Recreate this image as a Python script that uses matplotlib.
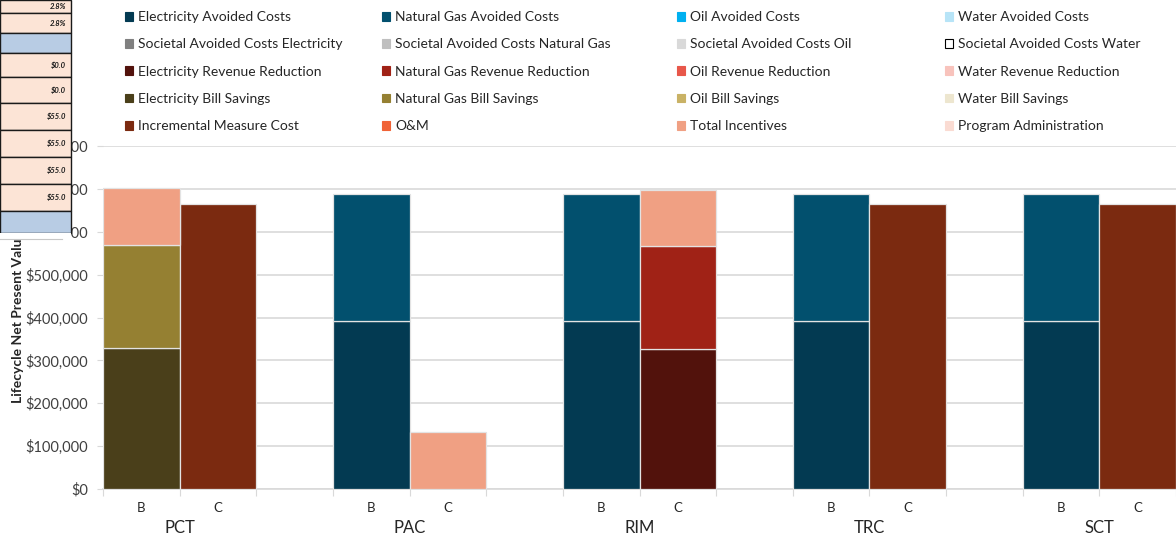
import matplotlib
matplotlib.use("Agg")
import matplotlib.pyplot as plt
import numpy as np
from matplotlib.patches import Patch, Rectangle
from matplotlib.lines import Line2D
from matplotlib.ticker import FuncFormatter, FixedLocator
from matplotlib import transforms

plt.rcParams['font.family'] = ['Lato', 'DejaVu Sans']

# cost test groups, each one benefit (B) and cost (C) bar plus a blank slot
tests = ["PCT", "PAC", "RIM", "TRC", "SCT"]
bar_labels = ["B", "C"]

# series values for the 10 bars (PCT B, PCT C, PAC B, PAC C, ...)
elec_avoided = [0, 0, 393000, 0, 393000, 0, 393000, 0, 393000, 0]
gas_avoided = [0, 0, 295000, 0, 295000, 0, 295000, 0, 295000, 0]
elec_rev_red = [0, 0, 0, 0, 0, 327000, 0, 0, 0, 0]
gas_rev_red = [0, 0, 0, 0, 0, 239000, 0, 0, 0, 0]
elec_bill = [328000, 0, 0, 0, 0, 0, 0, 0, 0, 0]
gas_bill = [242000, 0, 0, 0, 0, 0, 0, 0, 0, 0]
measure_cost = [0, 665000, 0, 0, 0, 0, 0, 665000, 0, 665000]
incentives = [131000, 0, 0, 132000, 0, 132000, 0, 0, 0, 0]
zero = [0] * 10

# legend / stacking order
series = [
    ("Electricity Avoided Costs", elec_avoided, "#033A52"),
    ("Natural Gas Avoided Costs", gas_avoided, "#02506E"),
    ("Oil Avoided Costs", zero, "#00B0F0"),
    ("Water Avoided Costs", zero, "#B7E4F7"),
    ("Societal Avoided Costs Electricity", zero, "#808080"),
    ("Societal Avoided Costs Natural Gas", zero, "#BFBFBF"),
    ("Societal Avoided Costs Oil", zero, "#D9D9D9"),
    ("Societal Avoided Costs Water", zero, "#FFFFFF"),
    ("Electricity Revenue Reduction", elec_rev_red, "#52120C"),
    ("Natural Gas Revenue Reduction", gas_rev_red, "#A02216"),
    ("Oil Revenue Reduction", zero, "#E8574A"),
    ("Water Revenue Reduction", zero, "#F8C3BC"),
    ("Electricity Bill Savings", elec_bill, "#4A3F1A"),
    ("Natural Gas Bill Savings", gas_bill, "#958032"),
    ("Oil Bill Savings", zero, "#C9B265"),
    ("Water Bill Savings", zero, "#EDE6CF"),
    ("Incremental Measure Cost", measure_cost, "#7B2A10"),
    ("O&M", zero, "#F06236"),
    ("Total Incentives", incentives, "#F0A083"),
    ("Program Administration", zero, "#FADBD2"),
]

# spreadsheet cells sitting over the left edge of the chart
cell_rows = [0, 13, 33, 53, 77, 103, 130, 157, 184, 211, 233]
cell_fill = ["#FCE4D6", "#FCE4D6", "#B8CCE4", "#FCE4D6", "#FCE4D6",
             "#FCE4D6", "#FCE4D6", "#FCE4D6", "#FCE4D6", "#B8CCE4"]
cell_text = ["2.8%", "2.8%", "", "$0.0", "$0.0",
             "$55.0", "$55.0", "$55.0", "$55.0", ""]

W, H = 1176, 537
fig = plt.figure(figsize=(W / 100, H / 100), dpi=100)


def fx(px):
    return px / W


def fy(py):
    return 1 - py / H


ax = fig.add_axes([fx(103), fy(489), 1 - fx(103), fy(146) - fy(489)])

# slot positions: B, C, blank for each test
x = np.array([3 * g + k + 0.5 for g in range(len(tests)) for k in range(2)])
bottom = np.zeros(len(x))
for name, vals, col in series:
    v = np.array(vals, dtype=float)
    m = v > 0
    if m.any():
        ax.bar(x[m], v[m], width=1.0, bottom=bottom[m], color=col,
               edgecolor="#E3E3E3", linewidth=0.9, zorder=3)
    bottom += v

ax.set_xlim(0, 14)
ax.set_ylim(0, 800000)
ax.yaxis.set_major_locator(FixedLocator(np.arange(0, 800001, 100000)))
ax.yaxis.set_major_formatter(FuncFormatter(lambda v, p: "${:,.0f}".format(v)))
ax.grid(axis="y", color="#D9D9D9", linewidth=1.2, zorder=0)
for s in ["top", "right", "left"]:
    ax.spines[s].set_visible(False)
ax.spines["bottom"].set_color("#D9D9D9")
ax.spines["bottom"].set_linewidth(1.2)
ax.tick_params(axis="y", length=4, color="#D9D9D9", labelsize=10.5, pad=7,
               labelcolor="#404040")
ax.set_xticks(np.arange(0, 15))
ax.set_xticklabels([])
ax.tick_params(axis="x", length=5, color="#D9D9D9")

trans = transforms.blended_transform_factory(ax.transData, fig.transFigure)
for g, t in enumerate(tests):
    for k, b in enumerate(bar_labels):
        ax.text(3 * g + k + 0.5, fy(508), b, transform=trans, ha="center",
                va="center", fontsize=9.5, color="#262626")
    ax.text(3 * g + 1, fy(528), t, transform=trans, ha="center",
            va="center", fontsize=12, color="#262626")

fig.text(fx(18), fy(403), "Lifecycle Net Present Value", rotation=90,
         ha="center", va="bottom", fontsize=10, fontweight="bold",
         color="#262626")

# legend, one block per column
handles = [Patch(facecolor=c, edgecolor=("#000000" if c == "#FFFFFF" else c),
                 linewidth=0.8, label=n) for n, v, c in series]
col_x = [125, 382, 677, 945]
for c in range(4):
    hs = handles[c::4]
    fig.legend(handles=hs, loc="upper left",
               bbox_to_anchor=(fx(col_x[c]), fy(11)), frameon=False,
               fontsize=10, handlelength=0.6, handleheight=0.6,
               handletextpad=0.35, labelspacing=1.1, borderpad=0,
               borderaxespad=0, labelcolor="#262626")

# cell block drawn over the axis labels
for i in range(len(cell_fill)):
    y0, y1 = cell_rows[i], cell_rows[i + 1]
    fig.add_artist(Rectangle((0, fy(y1)), fx(71), fy(y0) - fy(y1),
                             transform=fig.transFigure, facecolor=cell_fill[i],
                             edgecolor="#1A1A1A", linewidth=1.0, zorder=5))
    if cell_text[i]:
        fig.text(fx(66), (fy(y0) + fy(y1)) / 2, cell_text[i], ha="right",
                 va="center", fontsize=5.5, fontstyle="italic",
                 fontweight="bold", color="#1A1A1A", zorder=6)
fig.add_artist(Rectangle((0, fy(239)), fx(71), fy(233) - fy(239),
                         transform=fig.transFigure, facecolor="white",
                         edgecolor="none", zorder=5))
fig.add_artist(Line2D([0, fx(62)], [fy(239), fy(239)],
                      transform=fig.transFigure, color="#C8C8C8",
                      linewidth=0.8, zorder=6))

fig.savefig("out.png", dpi=100)
